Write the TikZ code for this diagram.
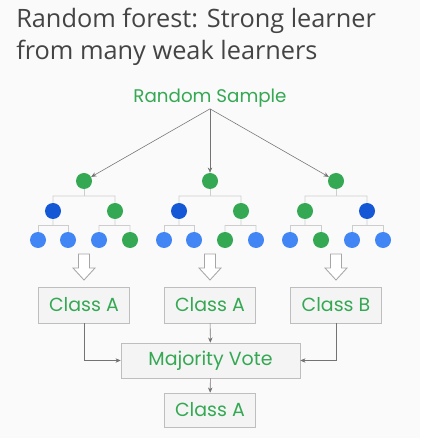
\documentclass[tikz,border=0pt]{standalone}
\usepackage{fontspec}
\setmainfont{Open Sans}
\newfontfamily\handfont{Poppins}
\usepackage{tikz}
\usetikzlibrary{arrows.meta,positioning,calc}
\definecolor{bgcol}{RGB}{250,250,250}
\definecolor{titlegray}{RGB}{68,68,68}
\definecolor{leafgreen}{RGB}{52,168,83}
\definecolor{darkblue}{RGB}{21,88,214}
\definecolor{lightblue}{RGB}{66,133,244}
\definecolor{boxfill}{RGB}{244,244,244}
\definecolor{boxline}{RGB}{190,190,190}
\definecolor{edgegray}{RGB}{205,205,205}

\begin{document}
\begin{tikzpicture}[
    x=0.025cm, y=-0.025cm,
    dot/.style={circle, minimum size=0.4cm, inner sep=0pt},
    gdot/.style={dot, fill=leafgreen},
    ddot/.style={dot, fill=darkblue},
    bdot/.style={dot, fill=lightblue},
    classbox/.style={rectangle, draw=boxline, fill=boxfill, minimum width=2.275cm,
                     minimum height=0.9cm, font=\handfont\fontsize{13.5}{13.5}\selectfont,
                     text=leafgreen},
    edge/.style={draw=edgegray, line width=0.6pt},
    hollow/.style={draw=gray!70, fill=white, line width=0.6pt, line join=miter},
    arr/.style={-{Stealth[length=1.3mm, width=1.1mm]}, draw=gray!90!black, line width=0.4pt},
]
    \useasboundingbox[fill=bgcol] (0,0) rectangle (420,438);

    % title
    \node[anchor=north west, align=left, text=titlegray, inner sep=0pt,
          font=\fontsize{18}{22.5}\selectfont] (title) at (16,8)
        {Random forest: Strong learner\\from many weak learners};

    \node[font=\handfont\fontsize{13}{13}\selectfont, text=leafgreen, inner sep=1pt]
        (sample) at (210,98) {Random Sample};

    % three trees
    \node[gdot] (r1) at (84,181) {};
    \node[gdot] (r2) at (210,181) {};
    \node[gdot] (r3) at (336,181) {};

    \node[ddot] (a1) at (53,211) {};
    \node[gdot] (b1) at (115,211) {};
    \node[ddot] (a2) at (179,211) {};
    \node[gdot] (b2) at (241,211) {};
    \node[gdot] (a3) at (305,211) {};
    \node[ddot] (b3) at (367,211) {};

    \node[bdot] (a1l) at (38,240) {};
    \node[bdot] (a1r) at (68,240) {};
    \node[bdot] (b1l) at (99,240) {};
    \node[gdot] (b1r) at (130,240) {};
    \node[bdot] (a2l) at (164,240) {};
    \node[bdot] (a2r) at (194,240) {};
    \node[gdot] (b2l) at (225,240) {};
    \node[bdot] (b2r) at (256,240) {};
    \node[bdot] (a3l) at (290,240) {};
    \node[gdot] (a3r) at (321,240) {};
    \node[bdot] (b3l) at (352,240) {};
    \node[bdot] (b3r) at (383,240) {};

    \foreach \t in {1,2,3} {
        \draw[edge] (a\t) -- ($(a\t)!.5!(a\t |- r\t)$) -| (b\t);
        \draw[edge] (r\t) -- ($(r\t)!.5!(r\t |- a\t)$);
        \draw[edge] (a\t l) -- ($(a\t l)!.5!(a\t l |- a\t)$) -| (a\t r);
        \draw[edge] (a\t) -- ($(a\t)!.5!(a\t |- a\t l)$);
        \draw[edge] (b\t l) -- ($(b\t l)!.5!(b\t l |- b\t)$) -| (b\t r);
        \draw[edge] (b\t) -- ($(b\t)!.5!(b\t |- b\t l)$);
    }

    \draw[arr] (sample.south) -- (r1);
    \draw[arr] (sample.south) -- (r2);
    \draw[arr] (sample.south) -- (r3);

    % votes
    \node[classbox] (c1) at (84,305) {Class A};
    \node[classbox] (c2) at (210,305) {Class A};
    \node[classbox] (c3) at (336,305) {Class B};

    \foreach \x in {84,210,336}
        \draw[hollow] (\x-5.5,254) -- (\x+5.5,254) -- (\x+5.5,268) -- (\x+11,268)
            -- (\x,280) -- (\x-11,268) -- (\x-5.5,268) -- cycle;

    \node[classbox, minimum width=4.475cm, minimum height=0.875cm] (vote) at (210.5,360.5)
        {Majority Vote};
    \node[classbox, minimum height=0.85cm] (final) at (210,410) {Class A};

    \draw[arr] (c1) |- (vote);
    \draw[arr] (c2) -- (vote);
    \draw[arr] (c3) |- (vote);
    \draw[arr] (vote) -- (final);
\end{tikzpicture}
\end{document}
